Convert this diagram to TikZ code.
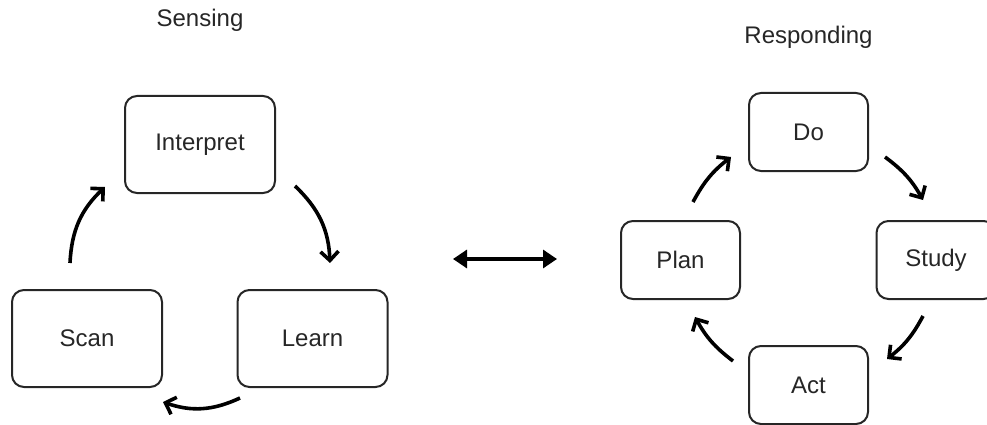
\documentclass[tikz,border=0pt]{standalone}
\usepackage{fontspec}
\setmainfont{Liberation Sans}
\usetikzlibrary{arrows.meta,calc}
\begin{document}
\begin{tikzpicture}[x=1pt,y=-1pt,
  box/.style={draw=black!85, line width=2pt, rounded corners=12pt, font=\fontsize{24}{28}\selectfont, text=black!85},
  bigbox/.style={box, minimum width=150pt, minimum height=97pt},
  smallbox/.style={box, minimum width=119pt, minimum height=78pt},
  cyc/.style={line width=3.6pt, -{Straight Barb[length=9pt,width=18pt,line width=3.6pt]}},
  title/.style={font=\fontsize{24}{28}\selectfont, text=black!85}
]
\useasboundingbox (0,0) rectangle (987,425);
\node[title] (sens) at (200,20) {Sensing};
\node[title] (resp) at (808.5,37) {Responding};
\node[bigbox] (interp) at (200,144.5) {Interpret};
\node[bigbox] (scan) at (87,338.5) {Scan};
\node[bigbox] (learn) at (312.5,338.5) {Learn};
\node[smallbox] (do) at (808.5,132) {Do};
\node[smallbox] (plan) at (680.5,260) {Plan};
\node[smallbox] (study) at (936,260) {Study};
\node[smallbox] (act) at (808.5,385) {Act};
% left cycle
\draw[cyc] ($(scan.center)+(-17,-75.5)$) to[bend left=22] ($(interp.center)+(-95,42.5)$);
\draw[cyc] ($(interp.center)+(95,41.5)$) to[bend left=22] ($(learn.center)+(17.5,-75.5)$);
\draw[cyc] ($(learn.center)+(-72.5,59.5)$) to[bend left=22] ($(scan.center)+(76,63.5)$);
% right cycle
\draw[cyc] ($(plan.center)+(12.5,-58)$) to[bend left=12] ($(do.center)+(-77.5,25)$);
\draw[cyc] ($(do.center)+(76.5,25)$) to[bend left=12] ($(study.center)+(-13,-60)$);
\draw[cyc] ($(study.center)+(-13,56)$) to[bend left=12] ($(act.center)+(78.5,-26)$);
\draw[cyc] ($(act.center)+(-75.5,-24)$) to[bend left=12] ($(plan.center)+(14.5,57)$);
% double arrow
\coordinate (dl) at (453,259);
\coordinate (dr) at (557,259);
\draw[line width=3.2pt, {Triangle[length=14pt,width=18pt]}-{Triangle[length=14pt,width=18pt]}] (dl) -- (dr);
\end{tikzpicture}
\end{document}
